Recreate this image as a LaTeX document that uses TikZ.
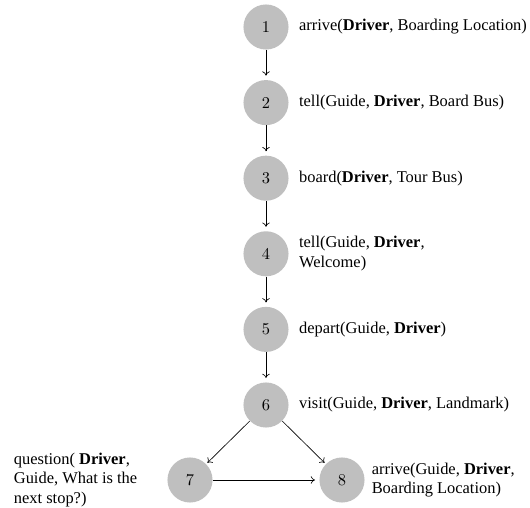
\documentclass[tikz,border=0pt]{standalone}
\usepackage{fontspec}
\setmainfont{Liberation Serif}
\newfontfamily\lmfont{Latin Modern Roman}
\usetikzlibrary{positioning,arrows.meta}

\tikzset{
  event/.style = {circle, fill=gray!50, minimum size=27.4pt, inner sep=0pt, font=\lmfont},
  evlabel/.style = {align=left, inner sep=2pt},
  link/.style = {-{To[length=2.6pt,width=4.6pt]}, shorten >=2.5pt}
}

\begin{document}
\begin{tikzpicture}[x=0.608pt, y=-0.608pt]
	\useasboundingbox (0,0) rectangle (530,508);

	% chain of events
	\foreach \i in {1,...,6}{
			\node [event] (n\i) at (266,{27+75.6*(\i-1)}) {\i};
		}
	\node [event] (n7) at (190,480) {7};
	\node [event] (n8) at (342,480) {8};

	% labels
	\node [evlabel, right=4pt of n1] (l1) {arrive(\textbf{Driver}, Boarding Location)};
	\node [evlabel, right=4pt of n2] (l2) {tell(Guide, \textbf{Driver}, Board Bus)};
	\node [evlabel, right=4pt of n3] (l3) {board(\textbf{Driver}, Tour Bus)};
	\node [evlabel, right=4pt of n4] (l4) {tell(Guide, \textbf{Driver},\\ Welcome)};
	\node [evlabel, right=4pt of n5] (l5) {depart(Guide, \textbf{Driver})};
	\node [evlabel, right=4pt of n6] (l6) {visit(Guide, \textbf{Driver}, Landmark)};
	\node [evlabel, left=16pt of n7] (l7) {question( \textbf{Driver},\\ Guide, What is the\\ next stop?)};
	\node [evlabel, right=2pt of n8] (l8) {arrive(Guide, \textbf{Driver},\\ Boarding Location)};

	% connectors
	\foreach \i [evaluate=\i as \j using int(\i+1)] in {1,...,5}{
			\draw [link] (n\i) -- (n\j);
		}
	\draw [link, shorten >=1pt] (n6) -- (n7);
	\draw [link, shorten >=1pt] (n6) -- (n8);
	\draw [link] (n7) -- (n8);
\end{tikzpicture}
\end{document}
